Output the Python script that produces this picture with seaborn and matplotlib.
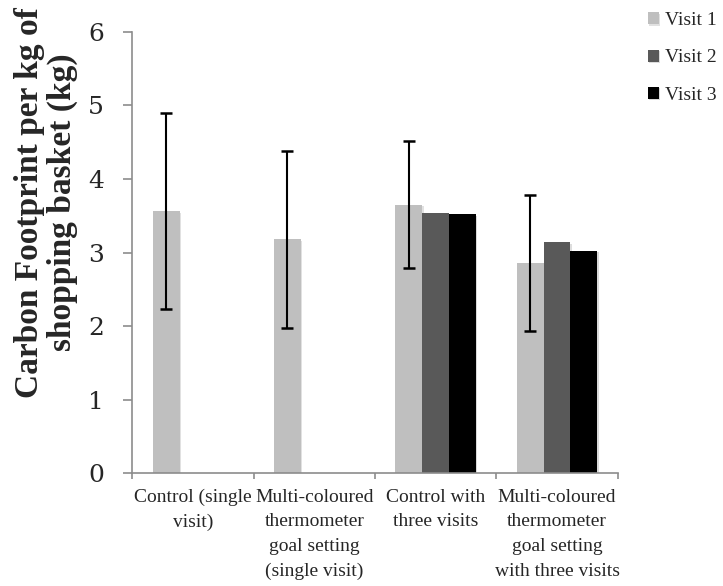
import numpy as np
import pandas as pd
import matplotlib
matplotlib.use("Agg")
import matplotlib.pyplot as plt
import matplotlib.patheffects as pe
import seaborn as sns

# Valores
groups = ["Control (single\nvisit)",
          "Multi-coloured\nthermometer\ngoal setting\n(single visit)",
          "Control with\nthree visits",
          "Multi-coloured\nthermometer\ngoal setting\nwith three visits"]
visits = ["Visit 1", "Visit 2", "Visit 3"]
visit1 = [3.56, 3.18, 3.65, 2.86]
visit2 = [np.nan, np.nan, 3.53, 3.14]
visit3 = [np.nan, np.nan, 3.52, 3.02]
visit1_err = [1.33, 1.20, 0.86, 0.92]
colors = ["#bfbfbf", "#595959", "#000000"]

# Montar tabela longa
df = pd.DataFrame({
    "Group": groups * 3,
    "Visit": [v for v in visits for _ in groups],
    "Value": visit1 + visit2 + visit3,
}).dropna()

sns.set_style("white")
plt.rcParams["font.family"] = ["Liberation Serif", "DejaVu Serif"]

fig = plt.figure(figsize=(7.23, 5.86), dpi=100)
ax = fig.add_axes([132.3 / 723, 1 - 473.3 / 586, 485.4 / 723, 441.6 / 586])

sns.barplot(data=df, x="Group", y="Value", hue="Visit", order=groups,
            hue_order=visits, palette=colors, width=0.665, gap=0, dodge=True,
            errorbar=None, saturation=1, linewidth=0, ax=ax)

# Sombra suave nas barras
for patch in ax.patches:
    patch.set_path_effects([pe.withSimplePatchShadow(offset=(1, -1), alpha=0.15)])

# Barras de erro só para Visit 1
bars = ax.containers[0]
xs = [b.get_x() + b.get_width() / 2 for b in bars]
hs = [b.get_height() for b in bars]
ax.errorbar(xs, hs, yerr=visit1_err, fmt="none", ecolor="black",
            elinewidth=1.5, capsize=4.3, capthick=1.8, zorder=5)

ax.set_ylim(0, 6)
ax.set_xlim(-0.5, len(groups) - 0.5)
ax.set_yticks(range(0, 7))
ax.set_xlabel("")

# Eixos no estilo Excel
for side in ["top", "right"]:
    ax.spines[side].set_visible(False)
for side in ["left", "bottom"]:
    ax.spines[side].set_color("#8c8c8c")
    ax.spines[side].set_linewidth(1.2)

ax.tick_params(axis="y", direction="out", length=6.5, width=1.2, color="#8c8c8c",
               pad=14, left=True)
for lab in ax.get_yticklabels():
    lab.set_fontfamily("DejaVu Serif")
    lab.set_fontsize(18)

ax.set_xticks(range(len(groups)))
ax.set_xticklabels(groups, fontsize=14, linespacing=1.6)
ax.set_xticks(np.arange(-0.5, len(groups)), minor=True)
ax.tick_params(axis="x", which="major", length=0, pad=11)
ax.tick_params(axis="x", which="minor", direction="out", length=4.5, width=1.2,
               color="#8c8c8c", bottom=True)

ax.set_ylabel("Carbon Footprint per kg of\nshopping basket (kg)", fontsize=24,
              fontweight="bold", va="center", linespacing=1.05)
ax.yaxis.set_label_coords(-0.178, 0.614)

# Legenda
handles, labels = ax.get_legend_handles_labels()
ax.get_legend().remove()
fig.legend(handles, labels, loc="upper left", bbox_to_anchor=(648 / 723, 1 - 12 / 586),
           frameon=False, fontsize=14, handlelength=0.57, handleheight=0.57,
           handletextpad=0.3, labelspacing=1.05, borderpad=0, borderaxespad=0)

fig.savefig("out.png", dpi=100)
